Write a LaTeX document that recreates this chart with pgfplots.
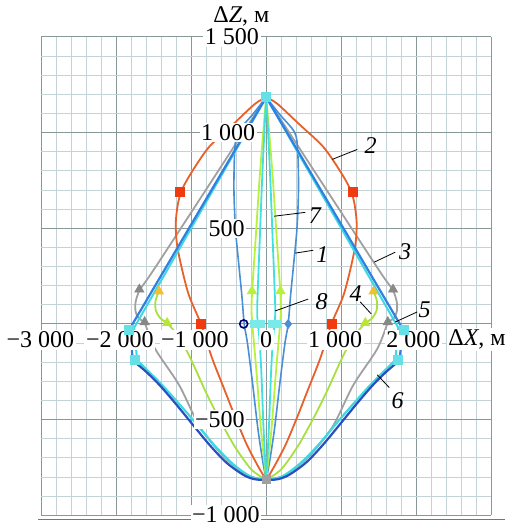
\documentclass[border=0pt]{standalone}
\usepackage{pgfplots}
\pgfplotsset{compat=1.18}
\usepackage{pgfplotstable}
\usepackage{fontspec}
\setmainfont{Liberation Serif}

\definecolor{cone}{HTML}{4A8FD6}
\definecolor{ctwo}{HTML}{E8602A}
\definecolor{csq}{HTML}{F03A10}
\definecolor{cthree}{HTML}{A0A0A0}
\definecolor{cfour}{HTML}{A8E040}
\definecolor{cfourm}{HTML}{F0C030}
\definecolor{cfive}{HTML}{2F80E0}
\definecolor{cfivelow}{HTML}{2A50C0}
\definecolor{csix}{HTML}{40D8E0}
\definecolor{cseven}{HTML}{B8F040}
\definecolor{ceight}{HTML}{40E0E0}
\definecolor{gmin}{HTML}{C4D4D6}
\definecolor{gmaj}{HTML}{889898}

% right-hand branches; the left ones are mirrored
\pgfplotstableread{
x y
0 1185
180 1095
380 1000
420 900
430 700
410 500
370 330
325 150
293 0
250 -100
185 -300
110 -550
45 -720
0 -815
}\cone
\pgfplotstableread{
x y
0 1185
150 1150
450 1040
750 930
950 820
1100 720
1170 640
1205 530
1190 420
1130 300
1030 150
870 0
720 -180
560 -340
420 -480
260 -630
100 -750
0 -815
}\ctwo
\pgfplotstableread{
x y
0 1185
720 751
1440 318
1600 225
1690 175
1740 115
1740 65
1700 30
1620 10
}\cthreeup
\pgfplotstableread{
x y
1620 10
1480 -130
1160 -320
880 -540
550 -700
250 -790
0 -815
}\cthreelow
\pgfplotstableread{
x y
1430 170
1475 120
1470 70
1410 30
1320 5
}\cfourup
\pgfplotstableread{
x y
1320 5
1200 -50
1060 -140
950 -230
800 -360
620 -500
420 -640
200 -760
0 -815
}\cfourlow
\pgfplotstableread{
x y
0 1185
1810 -20
1780 -190
}\cfiveup
\pgfplotstableread{
x y
1780 -190
1600 -250
1413 -323
1200 -420
1000 -516
760 -630
533 -724
300 -790
150 -812
0 -815
}\cfivelow
\pgfplotstableread{
x y
0 1185
1760 -20
1720 -190
}\csixup
\pgfplotstableread{
x y
1720 -190
1550 -255
1350 -335
1000 -490
700 -630
450 -730
200 -800
0 -815
}\csixlow
\pgfplotstableread{
x y
0 1185
40 1000
90 750
140 450
187 172
195 60
170 -70
130 -250
70 -550
0 -815
}\cseven
\pgfplotstableread{
x y
0 1185
25 1000
55 750
85 450
110 200
120 50
90 -80
65 -250
35 -550
0 -815
}\ceight

\tikzset{lbl/.style={fill=white, inner sep=0.8pt, font=\fontsize{12}{14}\selectfont},
  num/.style={inner sep=0.5pt, font=\fontsize{12}{14}\selectfont\itshape}}

\begin{document}
\begin{tikzpicture}
\begin{axis}[
    scale only axis, width=225pt, height=239pt,
    xmin=-3000, xmax=3000, ymin=-1000, ymax=1500,
    xtick={-3000,-2000,...,3000}, ytick={-1000,-500,...,1500},
    minor x tick num=4, minor y tick num=4,
    xticklabels={}, yticklabels={},
    grid=both,
    major grid style={gmaj, line width=0.55pt},
    minor grid style={gmin, line width=0.45pt},
    axis line style={draw=none},
    major tick length=0pt, minor tick length=0pt,
    clip=false,
]
% page frame, same proportions as the reference
\path (axis cs:-3547,1693) rectangle (axis cs:3307,-1063);
% curves
\addplot[cthree, line width=0.9pt, smooth, tension=0.5] table {\cthreeup};
\addplot[cthree, line width=0.9pt, smooth, tension=0.5] table[x expr=-\thisrow{x}] {\cthreeup};
\addplot[cthree, line width=0.9pt, smooth, tension=0.5] table {\cthreelow};
\addplot[cthree, line width=0.9pt, smooth, tension=0.5] table[x expr=-\thisrow{x}] {\cthreelow};
\addplot[ctwo, line width=0.9pt, smooth, tension=0.5] table {\ctwo};
\addplot[ctwo, line width=0.9pt, smooth, tension=0.5] table[x expr=-\thisrow{x}] {\ctwo};
\addplot[cfour, line width=0.9pt, smooth, tension=0.5] table {\cfourup};
\addplot[cfour, line width=0.9pt, smooth, tension=0.5] table[x expr=-\thisrow{x}] {\cfourup};
\addplot[cfour, line width=0.9pt, smooth, tension=0.5] table {\cfourlow};
\addplot[cfour, line width=0.9pt, smooth, tension=0.5] table[x expr=-\thisrow{x}] {\cfourlow};
\addplot[cone, line width=0.8pt, smooth, tension=0.5] table {\cone};
\addplot[cone, line width=0.8pt, smooth, tension=0.5] table[x expr=-\thisrow{x}] {\cone};
\addplot[cseven, line width=0.9pt, smooth, tension=0.5] table {\cseven};
\addplot[cseven, line width=0.9pt, smooth, tension=0.5] table[x expr=-\thisrow{x}] {\cseven};
\addplot[ceight, line width=0.9pt, smooth, tension=0.5] table {\ceight};
\addplot[ceight, line width=0.9pt, smooth, tension=0.5] table[x expr=-\thisrow{x}] {\ceight};
\addplot[csix, line width=1pt] table {\csixup};
\addplot[csix, line width=1pt] table[x expr=-\thisrow{x}] {\csixup};
\addplot[csix, line width=1.1pt, smooth, tension=0.5] table {\csixlow};
\addplot[csix, line width=1.1pt, smooth, tension=0.5] table[x expr=-\thisrow{x}] {\csixlow};
\addplot[cfive, line width=1.1pt] table {\cfiveup};
\addplot[cfive, line width=1.1pt] table[x expr=-\thisrow{x}] {\cfiveup};
\addplot[cfivelow, line width=1.1pt, smooth, tension=0.5] table {\cfivelow};
\addplot[cfivelow, line width=1.1pt, smooth, tension=0.5] table[x expr=-\thisrow{x}] {\cfivelow};
% markers
\addplot[only marks, mark=square*, mark size=2.2pt, csq] coordinates {(1150,690) (-1150,690) (870,0) (-870,0)};
\addplot[only marks, mark=triangle*, mark size=2.6pt, cthree!85!black] coordinates {(1690,180) (-1690,180) (1620,10) (-1620,10)};
\addplot[only marks, mark=triangle*, mark size=2.6pt, cfourm] coordinates {(1430,170) (-1430,170)};
\addplot[only marks, mark=triangle*, mark size=2.6pt, cfour!80!yellow] coordinates {(1320,5) (-1320,5)};
\addplot[only marks, mark=triangle*, mark size=2.6pt, cseven] coordinates {(190,172) (-190,172)};
\addplot[only marks, mark=square*, mark size=1.7pt, ceight!70!white] coordinates {(75,0) (-75,0) (160,0) (-160,0)};
\addplot[only marks, mark=diamond*, mark size=2.2pt, cone] coordinates {(293,0)};
\addplot[only marks, mark=o, mark size=2pt, thick, blue!40!black] coordinates {(-300,0)};
\addplot[only marks, mark=square*, mark size=2.2pt, csix!80!white] coordinates {(1830,-30) (-1830,-30) (1750,-190) (-1750,-190) (0,1185)};
\addplot[only marks, mark=square*, mark size=2pt, cthree] coordinates {(0,-815)};
% bottom rule
\draw[gmaj!80!black, line width=0.6pt] (axis cs:-3040,-1022) -- (axis cs:3180,-1022);
% tick labels
\node[lbl] at (axis cs:-3010,-83) {−3~000};
\node[lbl] at (axis cs:-1950,-83) {−2~000};
\node[lbl] at (axis cs:-950,-83) {−1~000};
\node[lbl] at (axis cs:0,-83) {0};
\node[lbl] at (axis cs:920,-83) {1~000};
\node[lbl] at (axis cs:1960,-83) {2~000};
\node[lbl, anchor=west] at (axis cs:2400,-83) {Δ\textit{X}, м};
\node[lbl, anchor=east] at (axis cs:-70,1500) {1~500};
\node[lbl, anchor=east] at (axis cs:-120,1000) {1~000};
\node[lbl, anchor=east] at (axis cs:-260,500) {500};
\node[lbl, anchor=east] at (axis cs:-260,-500) {−500};
\node[lbl, anchor=east] at (axis cs:-60,-995) {−1~000};
\node[lbl, fill=none] at (axis cs:-330,1605) {Δ\textit{Z}, м};
% curve numbers
\draw[black, line width=0.4pt] (axis cs:880,860) -- (axis cs:1213,912);
\node[num] at (axis cs:1390,930) {2};
\draw[black, line width=0.4pt] (axis cs:107,563) -- (axis cs:520,583);
\node[num] at (axis cs:650,565) {7};
\draw[black, line width=0.4pt] (axis cs:387,370) -- (axis cs:627,385);
\node[num] at (axis cs:750,365) {1};
\draw[black, line width=0.4pt] (axis cs:1440,323) -- (axis cs:1720,375);
\node[num] at (axis cs:1850,380) {3};
\draw[black, line width=0.4pt] (axis cs:1400,52) -- (axis cs:1253,115);
\node[num] at (axis cs:1190,160) {4};
\draw[black, line width=0.4pt] (axis cs:1720,10) -- (axis cs:2013,63);
\node[num] at (axis cs:2110,75) {5};
\draw[black, line width=0.4pt] (axis cs:120,68) -- (axis cs:560,130);
\node[num] at (axis cs:740,115) {8};
\draw[black, line width=0.4pt] (axis cs:1480,-266) -- (axis cs:1640,-333);
\node[num] at (axis cs:1750,-400) {6};
\end{axis}
\end{tikzpicture}
\end{document}
